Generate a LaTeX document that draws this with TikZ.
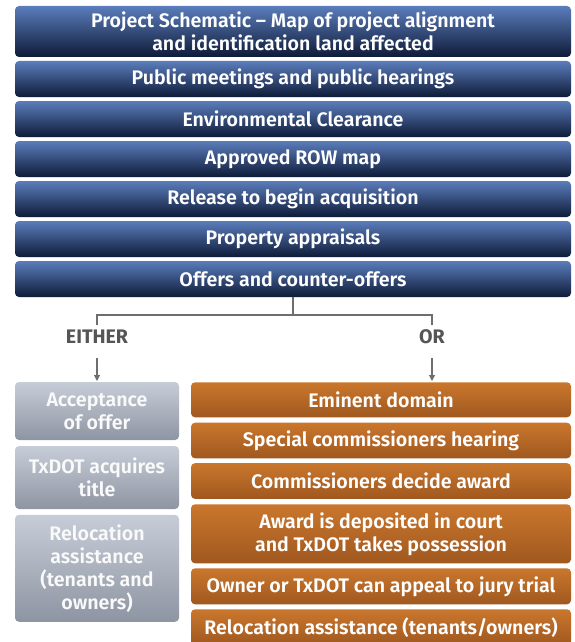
\documentclass[tikz,border=0pt]{standalone}
\usepackage{fontspec}
\setmainfont{Fira Sans}[UprightFont=* SemiBold, BoldFont=* Bold]
\usetikzlibrary{arrows.meta}
\definecolor{blueTop}{HTML}{5B7DBC}
\definecolor{blueBot}{HTML}{0E1B38}
\definecolor{orTop}{HTML}{CA772D}
\definecolor{orBot}{HTML}{A0581F}
\definecolor{grTop}{HTML}{C7CDD8}
\definecolor{grBot}{HTML}{8E95A2}
\definecolor{lineGray}{HTML}{6E6E6E}
\definecolor{labelGray}{HTML}{555555}
\tikzset{
  basebox/.style={rounded corners=4pt, inner sep=0pt, align=center,
    text=white, font=\fontsize{19.6}{23}\selectfont},
  bluebox/.style={basebox, top color=blueTop, bottom color=blueBot,
    minimum width=556pt},
  graybox/.style={basebox, top color=grTop, bottom color=grBot,
    minimum width=164pt, text=white!96!gray},
  orangebox/.style={basebox, top color=orTop, bottom color=orBot,
    minimum width=380pt},
  link/.style={draw=lineGray, line width=1.1pt},
  choice/.style={font=\fontsize{19.6}{23}\selectfont\bfseries, text=labelGray},
}
\begin{document}
\begin{tikzpicture}[x=1pt,y=-1pt]
\useasboundingbox (0,0) rectangle (575,642);
\clip (0,0) rectangle (575,642);

% main sequence
\node[bluebox, minimum height=51pt] (b1) at (293,31.5)
  {Project Schematic – Map of project alignment\\and identification land affected};
\node[bluebox, minimum height=36pt] (b2) at (293,79) {Public meetings and public hearings};
\node[bluebox, minimum height=36pt] (b3) at (293,119) {Environmental Clearance};
\node[bluebox, minimum height=36pt] (b4) at (293,159) {Approved ROW map};
\node[bluebox, minimum height=36pt] (b5) at (293,199) {Release to begin acquisition};
\node[bluebox, minimum height=36pt] (b6) at (293,239) {Property appraisals};
\node[bluebox, minimum height=36pt] (b7) at (293,279) {Offers and counter-offers};

% branch labels
\coordinate (split) at (293,315);
\coordinate (lj) at (97,315);
\coordinate (rj) at (432,315);
\coordinate (ld) at (97,325);
\coordinate (rd) at (432,325);
\node[choice] (either) at (97,337) {EITHER};
\node[choice] (or) at (432,337) {OR};
\coordinate (la0) at (97,358);
\coordinate (la1) at (97,381);
\coordinate (ra0) at (432,358);
\coordinate (ra1) at (432,381);

\draw[link] (b7.south) -- (split);
\draw[link] (ld) -- (lj) -- (rj) -- (rd);
\draw[link, -{Triangle[length=6pt,width=6pt]}] (la0) -- (la1);
\draw[link, -{Triangle[length=6pt,width=6pt]}] (ra0) -- (ra1);

% negotiated purchase
\node[graybox, minimum height=58pt] (g1) at (97,411) {Acceptance\\of offer};
\node[graybox, minimum height=63pt] (g2) at (97,477.5) {TxDOT acquires\\title};
\node[graybox, minimum height=107pt] (g3) at (97,568.3)
  {Relocation\\assistance\\(tenants and\\owners)};

% condemnation
\node[orangebox, minimum height=35pt] (o1) at (381,399.8) {Eminent domain};
\node[orangebox, minimum height=35.6pt] (o2) at (381,440.5) {Special commissioners hearing};
\node[orangebox, minimum height=35.7pt] (o3) at (381,481) {Commissioners decide award};
\node[orangebox, minimum height=59pt] (o4) at (381,533.8)
  {Award is deposited in court\\and TxDOT takes possession};
\node[orangebox, minimum height=36pt] (o5) at (381,586.3) {Owner or TxDOT can appeal to jury trial};
\node[orangebox, minimum height=36pt] (o6) at (381,627.3) {Relocation assistance (tenants/owners)};
\end{tikzpicture}
\end{document}
